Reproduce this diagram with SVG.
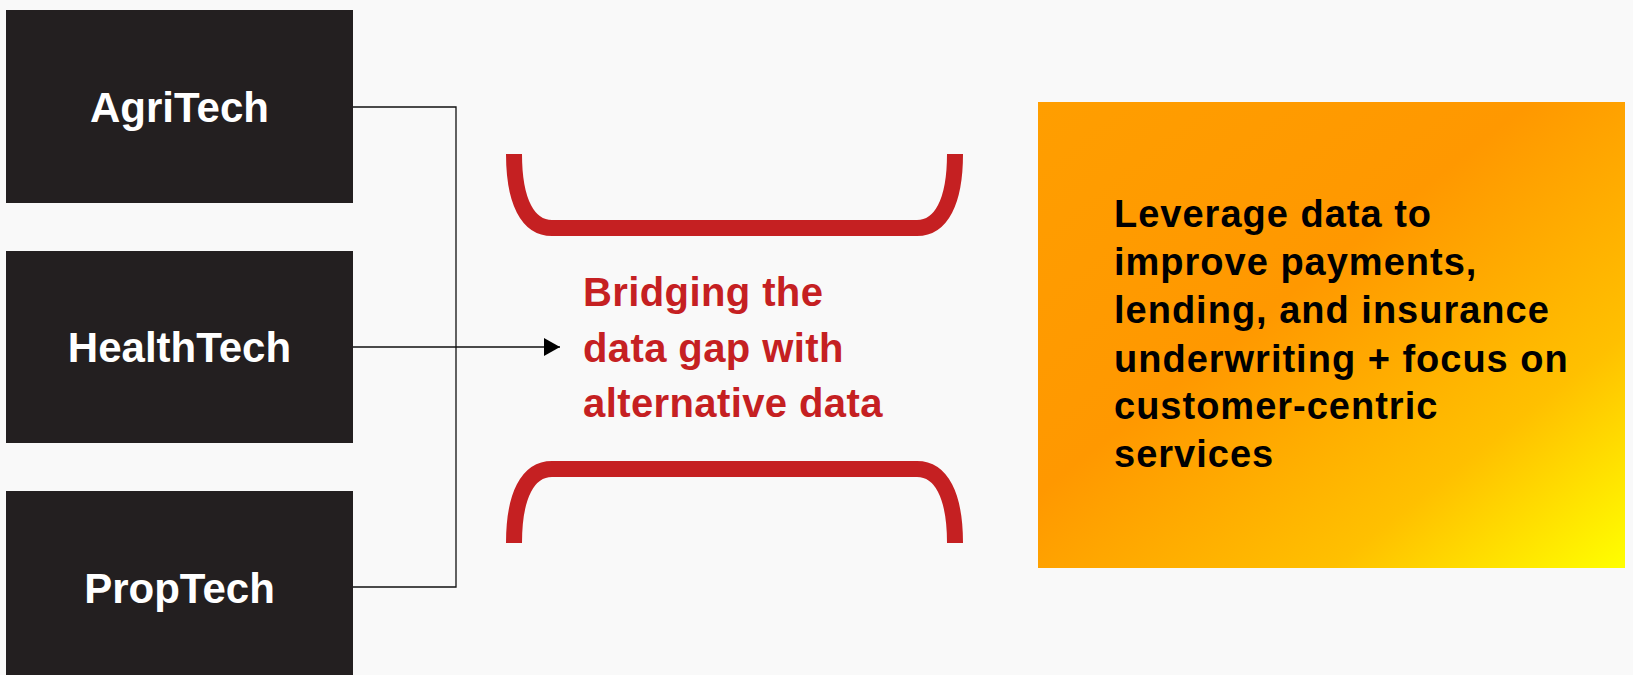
<svg xmlns="http://www.w3.org/2000/svg" width="1633" height="675" viewBox="0 0 1633 675">
<style>
.box{fill:#231F20}
.lbl{font-family:"Liberation Sans",Arial,sans-serif;font-weight:bold;font-size:42px;fill:#FFFFFF;text-anchor:middle}
.conn{stroke:#111111;stroke-width:1.3;fill:none}
.brk{stroke:#C52022;stroke-width:16;fill:none}
.red{font-family:"Liberation Sans",Arial,sans-serif;font-weight:bold;font-size:40px;fill:#C52022;letter-spacing:0.4px}
.blk{font-family:"Liberation Sans",Arial,sans-serif;font-weight:bold;font-size:38px;fill:#000000;letter-spacing:1px}
</style>
<defs>
<marker id="arr" viewBox="0 0 16 18" refX="16" refY="9" markerWidth="16" markerHeight="18" markerUnits="userSpaceOnUse" orient="auto">
<path d="M0,0 L16,9 L0,18 Z" fill="#000"/>
</marker>
<linearGradient id="og" x1="0" y1="0" x2="1" y2="1">
<stop offset="0" stop-color="#FF9E00"/>
<stop offset="0.42" stop-color="#FF9800"/>
<stop offset="0.75" stop-color="#FFC000"/>
<stop offset="1" stop-color="#FFFF00"/>
</linearGradient>
</defs>
<rect width="1633" height="675" fill="#F9F9F9"/>
<g id="agritech"><rect class="box" x="6" y="10" width="347" height="193"/><text class="lbl" x="179.5" y="122">AgriTech</text></g>
<g id="healthtech"><rect class="box" x="6" y="251" width="347" height="192"/><text class="lbl" x="179.5" y="362">HealthTech</text></g>
<g id="proptech"><rect class="box" x="6" y="491" width="347" height="190"/><text class="lbl" x="179.5" y="603">PropTech</text></g>
<g id="connectors">
<polyline class="conn" points="353,107 456,107 456,587 353,587"/>
<line class="conn" x1="353" y1="347" x2="560" y2="347" marker-end="url(#arr)"/>
</g>
<g id="bridge">
<path class="brk" d="M514,154 C514,202 528,228 552,228 L917,228 C941,228 955,202 955,154"/>
<path class="brk" d="M514,543 C514,495 528,469 552,469 L917,469 C941,469 955,495 955,543"/>
<text class="red"><tspan x="583" y="306">Bridging the</tspan><tspan x="583" y="362">data gap with</tspan><tspan x="583" y="417">alternative data</tspan></text>
</g>
<g id="outcome">
<rect x="1038" y="102" width="587" height="466" fill="url(#og)"/>
<text class="blk"><tspan x="1114" y="227">Leverage data to</tspan><tspan x="1114" y="275">improve payments,</tspan><tspan x="1114" y="323">lending, and insurance</tspan><tspan x="1114" y="372">underwriting + focus on</tspan><tspan x="1114" y="419">customer-centric</tspan><tspan x="1114" y="467">services</tspan></text>
</g>
</svg>
